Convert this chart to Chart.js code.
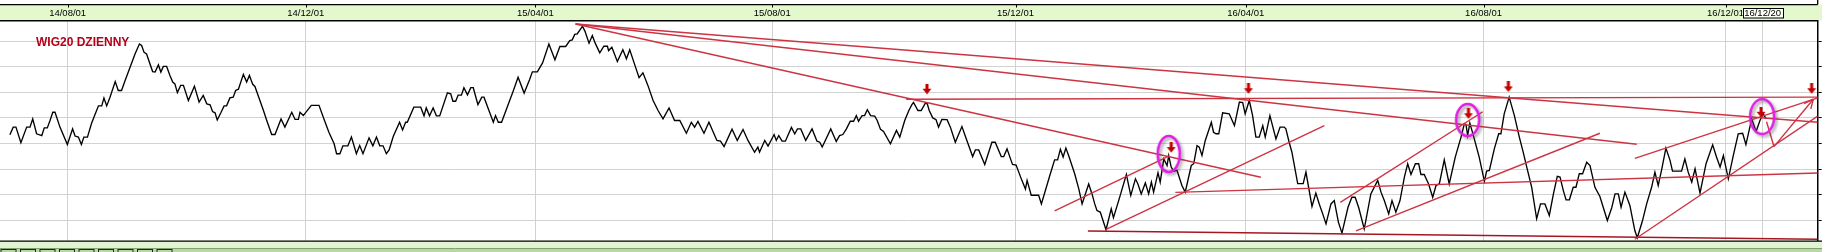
<!DOCTYPE html>
<html>
<head>
<meta charset="utf-8">
<script src="https://cdn.jsdelivr.net/npm/chart.js@4.4.1/dist/chart.umd.min.js"></script>
<style>
  html, body { margin: 0; padding: 0; background: #fff; overflow: hidden; }
</style>
</head>
<body>
<canvas id="wig" width="1822" height="252"></canvas>
<script>
// session index (trading days) and WIG20 close at each turning point
const dayIdx = [
  3.6, 4.8, 5.8, 7.6, 9.7, 10.9, 11.9, 13.3, 15.2, 16.1, 17.2, 18.2, 19.2, 20.0, 21.8, 24.5, 26.4, 27.3, 28.5, 29.6,
  30.5, 31.8, 33.3, 35.8, 37.0, 37.8, 38.8, 40.0, 41.9, 43.0, 44.2, 45.5, 47.3, 49.1, 50.7, 51.5, 52.4, 53.3, 55.5, 56.4,
  57.6, 58.5, 59.4, 60.6, 61.8, 62.8, 63.6, 64.5, 65.7, 66.7, 68.5, 70.7, 72.4, 73.9, 75.2, 76.4, 77.3, 78.2, 79.0, 80.4,
  81.5, 82.4, 83.6, 84.8, 85.7, 86.7, 88.5, 89.7, 90.7, 91.9, 92.7, 95.8, 97.0, 98.8, 100.0, 102.2, 103.6, 106.1, 107.3, 108.5,
  109.1, 110.3, 113.2, 116.0, 117.8, 119.6, 121.5, 122.4, 123.6, 124.7, 126.5, 127.8, 129.6, 130.8, 132.0, 134.2, 135.6, 136.9, 138.1, 139.3,
  140.5, 141.5, 143.0, 145.3, 146.4, 147.5, 148.1, 150.5, 153.0, 154.2, 155.0, 156.2, 157.5, 158.7, 159.9, 162.7, 163.9, 164.7, 165.7, 166.6,
  167.8, 168.7, 170.0, 171.2, 172.1, 173.8, 175.2, 176.0, 177.8, 179.4, 180.2, 181.2, 182.4, 184.7, 186.7, 188.4, 190.6, 192.6, 193.6, 195.4,
  197.3, 199.6, 201.8, 203.6, 205.7, 207.2, 208.1, 209.0, 209.9, 211.8, 212.7, 214.2, 215.4, 216.4, 218.1, 219.6, 220.9, 221.3, 222.5, 224.5,
  226.5, 227.8, 229.0, 230.5, 232.4, 233.8, 235.6, 237.5, 239.3, 241.1, 243.3, 245.3, 247.2, 249.6, 251.4, 252.6, 253.8, 256.0, 257.8, 260.7,
  262.0, 263.3, 266.2, 268.1, 270.2, 272.0, 274.4, 275.6, 276.2, 278.1, 279.3, 281.5, 282.3, 283.2, 284.4, 285.6, 287.8, 289.0, 290.0, 291.2,
  293.0, 295.3, 297.1, 298.1, 299.0, 302.1, 304.1, 305.3, 306.5, 307.8, 309.2, 310.4, 311.4, 312.2, 313.5, 314.4, 315.4, 316.6, 318.1, 319.0,
  320.2, 321.3, 323.8, 326.0, 327.2, 329.0, 330.5, 331.6, 332.2, 333.8, 335.0, 336.5, 337.2, 337.9, 339.2, 340.4, 341.3, 342.5, 344.4, 345.6,
  347.4, 349.8, 351.6, 353.7, 354.7, 355.9, 358.1, 360.7, 361.9, 364.1, 365.0, 366.2, 367.6, 368.2, 369.5, 371.6, 372.9, 373.5, 375.0, 377.7,
  378.7, 381.6, 383.5, 384.6, 385.6, 386.6, 387.6, 388.6, 390.8, 392.3, 393.5, 394.7, 395.9, 397.1, 398.1, 398.9, 400.1, 402.2, 404.1, 404.9,
  406.8, 409.6, 411.2, 412.9, 413.8, 415.0, 416.5, 417.7, 418.7, 419.5, 421.1, 421.9, 423.2, 424.4, 425.0, 425.9, 426.8, 428.0, 429.8, 431.0,
  433.2, 434.1, 435.3, 436.1, 437.1, 438.3, 439.3, 440.5, 441.3, 442.2, 443.2, 444.6, 447.0, 448.9, 450.7, 451.9, 452.8, 454.3, 455.5, 456.7,
  457.9, 459.2, 460.1, 461.8, 464.0, 465.5, 467.0, 467.6, 468.8, 469.8, 471.9, 473.9, 474.9, 477.1, 478.5, 479.8, 481.0, 482.2, 484.0, 485.2,
  486.7, 488.0, 490.2, 491.6, 492.8, 494.1, 496.1, 498.5, 501.0, 502.2, 503.4, 505.0, 506.2, 507.6, 509.1, 510.7, 511.9, 513.1, 514.7, 515.9,
  516.7, 517.9, 519.5, 521.0, 522.2, 523.4, 525.2, 527.0, 529.2, 531.3, 532.5, 533.1, 533.7, 534.5, 535.8, 537.9, 539.8, 540.6, 541.6, 543.4,
  545.0, 545.8, 547.0, 548.8, 550.7, 552.5, 553.9, 555.2, 557.0, 558.8, 560.2, 561.8, 563.4, 564.9, 566.3, 567.3, 568.5, 569.5, 570.7, 572.1,
  573.1, 574.3, 575.5, 577.0, 578.2, 580.0, 581.8, 583.0, 584.5, 586.1, 587.3, 588.5, 589.5, 590.9, 592.7, 594.5, 595.4, 597.3, 598.8, 600.6,
  601.8, 603.0, 604.2, 605.8, 607.3, 608.2, 609.7, 611.5, 612.7, 613.9, 615.2, 616.4, 618.2, 620.4, 622.8, 624.2, 625.5, 626.7, 628.5, 630.3,
  632.1, 633.7, 634.9, 637.0, 638.6, 640.0, 641.2, 642.2
];
const closeVal = [
  2134, 2164, 2164, 2103, 2164, 2164, 2196, 2138, 2131, 2161, 2161, 2190, 2222, 2222, 2164, 2096, 2157, 2129, 2125, 2096,
  2125, 2125, 2179, 2247, 2247, 2278, 2247, 2281, 2342, 2307, 2307, 2346, 2398, 2450, 2489, 2483, 2456, 2450, 2381, 2379,
  2407, 2379, 2401, 2401, 2366, 2340, 2333, 2299, 2327, 2327, 2268, 2324, 2262, 2288, 2255, 2251, 2225, 2220, 2192, 2222,
  2247, 2247, 2278, 2281, 2307, 2312, 2370, 2340, 2366, 2331, 2323, 2229, 2190, 2135, 2135, 2196, 2164, 2222, 2194, 2194,
  2222, 2209, 2249, 2249, 2196, 2144, 2099, 2060, 2060, 2091, 2091, 2125, 2060, 2092, 2060, 2122, 2091, 2125, 2091, 2091,
  2060, 2075, 2127, 2183, 2153, 2183, 2183, 2242, 2242, 2208, 2239, 2208, 2239, 2208, 2208, 2298, 2294, 2265, 2265, 2289,
  2289, 2318, 2290, 2318, 2318, 2252, 2281, 2281, 2229, 2183, 2209, 2183, 2183, 2249, 2307, 2359, 2297, 2350, 2380, 2380,
  2415, 2489, 2427, 2479, 2479, 2502, 2505, 2526, 2528, 2558, 2539, 2492, 2522, 2493, 2454, 2480, 2480, 2463, 2476, 2420,
  2466, 2431, 2466, 2418, 2357, 2376, 2327, 2268, 2229, 2196, 2239, 2190, 2190, 2140, 2183, 2164, 2186, 2140, 2183, 2112,
  2109, 2088, 2156, 2112, 2155, 2112, 2066, 2086, 2066, 2112, 2090, 2135, 2112, 2131, 2109, 2109, 2163, 2138, 2157, 2157,
  2112, 2157, 2109, 2105, 2086, 2157, 2108, 2131, 2135, 2157, 2187, 2187, 2209, 2187, 2209, 2209, 2232, 2209, 2207, 2190,
  2155, 2147, 2099, 2151, 2125, 2190, 2229, 2252, 2260, 2229, 2229, 2258, 2255, 2229, 2200, 2193, 2164, 2194, 2193, 2164,
  2105, 2166, 2112, 2049, 2075, 2075, 2018, 2105, 2105, 2049, 2049, 2079, 2036, 2018, 2016, 1956, 1922, 1956, 1898, 1898,
  1864, 1969, 2036, 2036, 2077, 2047, 2082, 2053, 1982, 1923, 1864, 1903, 1942, 1903, 1864, 1838, 1832, 1763, 1845, 1810,
  1877, 1979, 1897, 1962, 1942, 1903, 1946, 1903, 1949, 1910, 1986, 1949, 2040, 2014, 2053, 2008, 1992, 1995, 1936, 1910,
  2014, 2021, 2092, 2086, 2053, 2112, 2144, 2183, 2144, 2138, 2138, 2220, 2216, 2170, 2262, 2260, 2216, 2268, 2209, 2125,
  2125, 2170, 2125, 2209, 2118, 2164, 2164, 2157, 2105, 2066, 1943, 1943, 1988, 1854, 1906, 1862, 1825, 1786, 1864, 1877,
  1793, 1750, 1851, 1890, 1890, 1849, 1766, 1903, 1956, 1910, 1877, 1825, 1877, 1832, 1877, 1969, 2021, 1979, 2021, 2021,
  1979, 1979, 1942, 1890, 1936, 1942, 2036, 1942, 2047, 2125, 2177, 2174, 2131, 2180, 2131, 2047, 1952, 1992, 1995, 2079,
  2138, 2138, 2216, 2281, 2209, 2125, 2066, 2008, 1929, 1806, 1864, 1864, 1819, 1903, 1972, 1969, 1916, 1880, 1880, 1929,
  1929, 1982, 1982, 2027, 2014, 1929, 1893, 1851, 1799, 1849, 1903, 1903, 1851, 1910, 1858, 1760, 1732, 1799, 1864, 1929,
  1988, 1936, 1995, 2082, 2034, 1992, 1992, 1992, 2040, 1988, 1949, 2001, 1906, 2021, 2095, 2047, 2008, 2053, 1962, 2053,
  2138, 2140, 2096, 2196, 2147, 2190, 2216, 2196
];

// time axis: first session of each month shown and the cursor date
const monthIdx = [24.6, 111.2, 194.7, 280.8, 369.3, 453.0, 539.5, 627.5];
const monthLbl = ['14/08/01', '14/12/01', '15/04/01', '15/08/01', '15/12/01', '16/04/01', '16/08/01', '16/12/01'];
const cursorIdx = 640.8;
const cursorLbl = '16/12/20';
const levelTicks = [1800, 1900, 2000, 2100, 2200, 2300, 2400, 2500];

// drawn trend lines: [fromIdx, fromVal, toIdx, toVal]
const trendLines = [
  [209.3, 2567, 661, 2183],
  [209.3, 2567, 595.2, 2097],
  [209.3, 2567, 458.5, 1968],
  [329.5, 2273, 661, 2281],
  [383.5, 1837, 425.0, 2051],
  [402.2, 1765, 481.6, 2170],
  [427.4, 1909, 661, 1985],
  [487.4, 1870, 539.2, 2224],
  [493.1, 1759, 581.8, 2140],
  [594.5, 2042, 661, 2278],
  [594.5, 1726, 661, 2207],
  [642.4, 2185, 645.1, 2088],
  [645.1, 2088, 659.4, 2273],
  [656.1, 2256, 659.4, 2273],
  [658.5, 2235, 659.4, 2273]
];
const floorLine = [395.6, 1758, 661, 1726];

// sell-signal arrows and circled tops
const arrowIdx = [337.1, 425.9, 454.0, 534.0, 548.5, 640.4, 658.8];
const arrowVal = [2312, 2084, 2314, 2216, 2321, 2222, 2314];
const ringIdx = [425.0, 533.7, 640.8];
const ringVal = [2059, 2192, 2205];
const ringSize = [[22, 36], [23, 32], [24, 35]];

const RED = 'rgb(205, 52, 66)';

function makeArrow() {
    const c = document.createElement('canvas');
    c.width = 10; c.height = 11;
    const g = c.getContext('2d');
    g.fillStyle = '#c20000';
    g.fillRect(3.5, 0, 3, 6);
    g.beginPath();
    g.moveTo(0.5, 5); g.lineTo(9.5, 5); g.lineTo(5, 10.5);
    g.closePath();
    g.fill();
    return c;
}

function makeRing(w, h) {
    const c = document.createElement('canvas');
    c.width = w + 10; c.height = h + 10;
    const g = c.getContext('2d');
    g.shadowColor = 'rgba(70,70,70,0.5)';
    g.shadowBlur = 3;
    g.shadowOffsetX = 2;
    g.shadowOffsetY = 2;
    g.strokeStyle = '#e21ee2';
    g.lineWidth = 2.6;
    g.beginPath();
    g.ellipse(c.width / 2, c.height / 2, w / 2, h / 2, 0, 0, Math.PI * 2);
    g.stroke();
    return c;
}

const arrowPic = makeArrow();

const datasets = [];
datasets.push({
    type: 'scatter',
    data: arrowIdx.map((x, i) => ({ x: x, y: arrowVal[i] })),
    pointStyle: arrowPic,
    pointRadius: 4,
    order: 0
});
datasets.push({
    type: 'scatter',
    data: ringIdx.map((x, i) => ({ x: x, y: ringVal[i] })),
    pointStyle: ringSize.map(s => makeRing(s[0], s[1])),
    pointRadius: 4,
    order: 1
});
trendLines.forEach(t => {
    datasets.push({
        data: [{ x: t[0], y: t[1] }, { x: t[2], y: t[3] }],
        borderColor: RED,
        borderWidth: 1.4,
        pointRadius: 0,
        order: 2
    });
});
datasets.push({
    data: [{ x: floorLine[0], y: floorLine[1] }, { x: floorLine[2], y: floorLine[3] }],
    borderColor: 'rgb(165, 22, 34)',
    borderWidth: 1.5,
    pointRadius: 0,
    order: 2
});
datasets.push({
    data: dayIdx.map((x, i) => ({ x: x, y: closeVal[i] })),
    borderColor: '#000',
    borderWidth: 1.35,
    pointRadius: 0,
    tension: 0,
    order: 3
});

const framePlugin = {
    id: 'frame',
    beforeDraw(chart) {
        const { ctx, chartArea: a, width, height } = chart;
        ctx.save();
        // date header strip
        ctx.fillStyle = '#e4f8ce';
        ctx.fillRect(0, 4.5, width, a.top - 4.5);
        // bottom toolbar strip
        ctx.fillStyle = '#e2f3d4';
        ctx.fillRect(0, a.bottom, width, height - a.bottom);
        ctx.fillStyle = '#b9d6a8';
        ctx.fillRect(0, 248.5, width, height - 248.5);
        ctx.restore();
    },
    afterDraw(chart) {
        const { ctx, chartArea: a, width, scales } = chart;
        const xs = scales.x;
        ctx.save();
        ctx.strokeStyle = '#000';
        ctx.lineWidth = 1.3;
        ctx.beginPath();
        ctx.moveTo(0, 4.6); ctx.lineTo(a.right, 4.6);
        ctx.moveTo(a.right, 0); ctx.lineTo(a.right, 4.6);
        ctx.moveTo(0, a.bottom + 0.4); ctx.lineTo(width, a.bottom + 0.4);
        ctx.stroke();
        ctx.lineWidth = 1;
        ctx.strokeStyle = '#7fa36c';
        ctx.beginPath();
        ctx.moveTo(0, 248.5); ctx.lineTo(width, 248.5);
        ctx.stroke();
        // toolbar buttons
        ctx.strokeStyle = '#222';
        for (let i = 0; i < 9; i++) {
            ctx.strokeRect(1 + i * 19.5, 249.5, 15, 4);
        }
        // little date ticks at the top of the header
        ctx.strokeStyle = '#000';
        ctx.beginPath();
        monthIdx.forEach(v => {
            const px = Math.round(xs.getPixelForValue(v)) + 0.5;
            ctx.moveTo(px, 4.5); ctx.lineTo(px, 7.5);
        });
        ctx.stroke();
        // cursor date box
        const cx = xs.getPixelForValue(cursorIdx);
        ctx.fillStyle = '#fbfff7';
        ctx.fillRect(cx - 19.5, 8, 40, 10);
        ctx.strokeStyle = '#000';
        ctx.lineWidth = 1;
        ctx.strokeRect(Math.round(cx - 19.5) + 0.5, 8.5, 40, 9.5);
        ctx.fillStyle = '#000';
        ctx.font = '9.5px "Liberation Sans", Arial, sans-serif';
        ctx.textAlign = 'center';
        ctx.textBaseline = 'middle';
        ctx.fillText(cursorLbl, cx + 0.5, 13.6);
        // chart name
        ctx.fillStyle = '#b4001a';
        ctx.font = 'bold 12px "Liberation Sans", Arial, sans-serif';
        ctx.textAlign = 'left';
        ctx.textBaseline = 'alphabetic';
        ctx.fillText('WIG20 DZIENNY', a.left + 36, a.top + 25.5);
        ctx.restore();
    }
};

new Chart(document.getElementById('wig'), {
    type: 'line',
    data: { datasets: datasets },
    options: {
        responsive: false,
        animation: false,
        devicePixelRatio: 1,
        events: [],
        layout: { autoPadding: false, padding: { top: 4.5, bottom: 11.3, left: 0, right: 0 } },
        plugins: { legend: { display: false }, tooltip: { enabled: false } },
        scales: {
            x: {
                type: 'linear',
                position: 'top',
                min: 0,
                max: 661,
                afterBuildTicks: s => {
                    s.ticks = monthIdx.concat([cursorIdx]).map(v => ({ value: v }));
                },
                afterFit: s => { s.height = 16; s.paddingLeft = 0; s.paddingRight = 0; },
                ticks: {
                    autoSkip: false,
                    maxRotation: 0,
                    padding: 1,
                    color: '#000',
                    font: { size: 9.5, family: '"Liberation Sans", Arial, sans-serif' },
                    callback: (v, i) => (i < monthLbl.length ? monthLbl[i] : '')
                },
                grid: { color: '#d2d2d2', lineWidth: 1, drawTicks: false },
                border: { color: '#000', width: 1.4 }
            },
            y: {
                type: 'linear',
                position: 'right',
                min: 1720.3,
                max: 2580.5,
                afterBuildTicks: s => {
                    s.ticks = levelTicks.map(v => ({ value: v }));
                },
                afterFit: s => { s.width = 4.3; },
                ticks: { display: false },
                grid: { color: '#d2d2d2', lineWidth: 1, drawTicks: true, tickLength: 4, tickColor: '#000' },
                border: { color: '#000', width: 1.5 }
            }
        }
    },
    plugins: [framePlugin]
});
</script>
</body>
</html>
